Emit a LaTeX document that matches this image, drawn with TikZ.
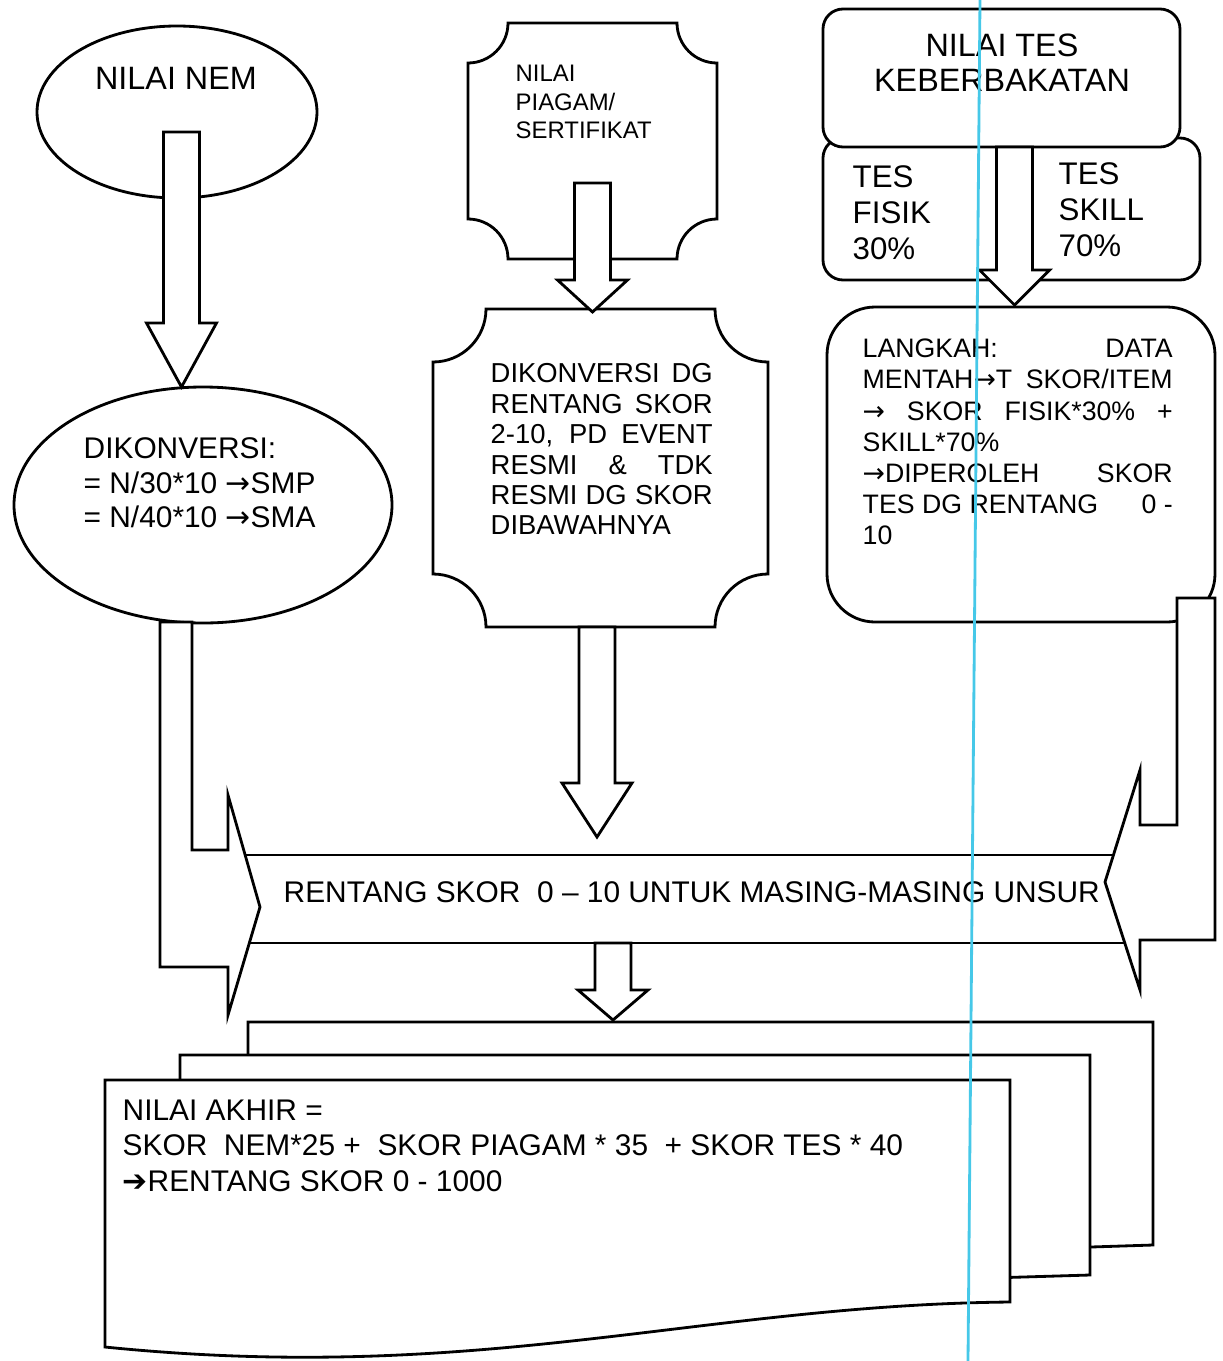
\documentclass[tikz,border=0pt]{standalone}
\usepackage{fontspec}
\setmainfont{Liberation Sans}
\newfontfamily\arrowfont{DejaVu Sans}
\newcommand{\ra}{{\arrowfont →}}
\definecolor{scanline}{RGB}{70,200,232}

\begin{document}
\begin{tikzpicture}[x=0.1mm,y=-0.1mm,
        boxline/.style={draw,line width=0.8pt,fill=white},
        txt/.style={inner sep=0pt,align=left}]
        \useasboundingbox (0,0) rectangle (1222,1361);
        %% NEM column
        \draw[boxline] (177,112) ellipse [x radius=140, y radius=86];
        \draw[boxline] (203,505) ellipse [x radius=189, y radius=118];
        %% Piagam column
        \draw[boxline] (508,23) -- (677,23) arc[start angle=180,end angle=90,radius=40]
            -- (717,219) arc[start angle=270,end angle=180,radius=40]
            -- (508,259) arc[start angle=0,end angle=-90,radius=40]
            -- (468,63) arc[start angle=90,end angle=0,radius=40] -- cycle;
        \draw[boxline] (486,309) -- (715,309) arc[start angle=180,end angle=90,radius=53]
            -- (768,574) arc[start angle=270,end angle=180,radius=53]
            -- (486,627) arc[start angle=0,end angle=-90,radius=53]
            -- (433,362) arc[start angle=90,end angle=0,radius=53] -- cycle;
        %% Tes column
        \draw[boxline,rounded corners=2mm] (823,138) rectangle (1200,280);
        \draw[boxline,rounded corners=2mm] (823,9) rectangle (1180,147);
        \draw[boxline,rounded corners=4.8mm] (827,307) rectangle (1215,622);
        %% Bent arrows into the band
        \draw[boxline] (160,622) -- (160,967) -- (228,967) -- (228,1015) -- (260,907)
            -- (228,795) -- (228,850) -- (192,850) -- (192,622) -- cycle;
        \draw[boxline] (1215,598) -- (1215,940) -- (1140,940) -- (1140,990) -- (1105,882)
            -- (1140,770) -- (1140,825) -- (1177,825) -- (1177,598) -- cycle;
        \draw[line width=0.8pt] (245,855) -- (1113,855);
        \draw[line width=0.8pt] (249,943) -- (1125,943);
        %% Stack of pages
        \draw[boxline] (248,1022) -- (1153,1022) -- (1153,1245) -- (1060,1248) -- (248,1248) -- cycle;
        \draw[boxline] (180,1055) -- (1090,1055) -- (1090,1275) -- (990,1278) -- (180,1278) -- cycle;
        \draw[boxline] (105,1080) -- (1010,1080) -- (1010,1302)
            .. controls (700,1305) and (480,1385) .. (105,1347) -- cycle;
        %% Down arrows
        \foreach \cx/\ytop/\yneck/\ytip in {181.5/132/323/387, 592.5/183/280/312,
                597/627/783/837, 1014.5/147/270/305, 613/943/990/1020}
            \draw[boxline] (\cx-18,\ytop) -- (\cx-18,\yneck) -- (\cx-35,\yneck) -- (\cx,\ytip)
                -- (\cx+35,\yneck) -- (\cx+18,\yneck) -- (\cx+18,\ytop) -- cycle;
        %% Texts
        \node[txt,font=\fontsize{9.2}{11}\selectfont] (nem) at (176,78) {NILAI NEM};
        \node[txt,anchor=north west,font=\fontsize{8.5}{9.8}\selectfont] (konvnem) at (83,437)
            {DIKONVERSI:\\= N/30*10 \ra SMP\\= N/40*10 \ra SMA};
        \node[txt,anchor=north west,font=\fontsize{6.8}{8.1}\selectfont] (piagam) at (515,64.5)
            {NILAI\\PIAGAM/\\SERTIFIKAT};
        \node[txt,anchor=north west,font=\fontsize{7.8}{8.65}\selectfont] (konvpiagam) at (490,363)
            {\makebox[22.2mm][s]{DIKONVERSI DG}\\\makebox[22.2mm][s]{RENTANG SKOR}\\
             \makebox[22.2mm][s]{2-10, PD EVENT}\\\makebox[22.2mm][s]{RESMI \& TDK}\\
             \makebox[22.2mm][s]{RESMI DG SKOR}\\DIBAWAHNYA};
        \node[txt,align=center,anchor=north,font=\fontsize{9.2}{10}\selectfont] (tes) at (1002,33.5)
            {NILAI TES\\KEBERBAKATAN};
        \node[txt,anchor=north west,font=\fontsize{8.9}{10.2}\selectfont] (fisik) at (852,165)
            {TES\\FISIK\\30\%};
        \node[txt,anchor=north west,font=\fontsize{8.9}{10.2}\selectfont] (skill) at (1058,162)
            {TES\\SKILL\\70\%};
        \node[txt,anchor=north west,font=\fontsize{7.6}{8.85}\selectfont] (langkah) at (862,338.5)
            {\makebox[31mm][s]{LANGKAH:\hfill DATA}\\\makebox[31mm][s]{MENTAH\ra T SKOR/ITEM}\\
             \makebox[31mm][s]{\ra\ SKOR FISIK*30\% +}\\SKILL*70\%\\
             \makebox[31mm][s]{\ra DIPEROLEH\hfill SKOR}\\\makebox[31mm][s]{TES DG RENTANG\hfill 0 -}\\10};
        \node[txt,anchor=west,font=\fontsize{8.5}{10}\selectfont] (band) at (283,892)
            {RENTANG SKOR\ \ 0 – 10 UNTUK MASING-MASING UNSUR};
        \node[txt,anchor=north west,font=\fontsize{8.5}{10}\selectfont] (akhir) at (122,1099.5)
            {NILAI AKHIR =\\SKOR\ \ NEM*25 +\ \ SKOR PIAGAM * 35\ \ + SKOR TES * 40\\
             {\arrowfont ➔}RENTANG SKOR 0 - 1000};
        %% Scanner line
        \draw[scanline,line width=0.8pt] (980,0) -- (968,1361);
    \end{tikzpicture}
\end{document}
